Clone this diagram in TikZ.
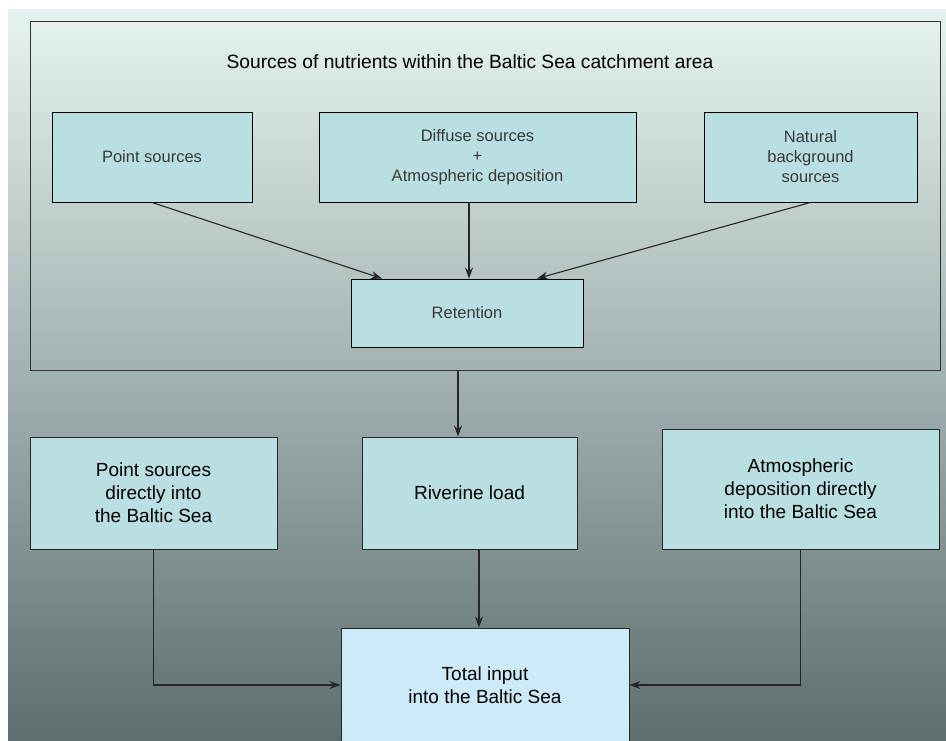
\documentclass[tikz,border=0pt]{standalone}
\usepackage{fontspec}
\setmainfont{Liberation Sans}
\usetikzlibrary{arrows.meta}

\definecolor{boxfill}{HTML}{BADFE3}
\definecolor{totfill}{HTML}{CCEAF8}
\definecolor{bgtop}{HTML}{E6F3F3}
\definecolor{bgmid}{HTML}{9AAAAA}
\definecolor{bgbot}{HTML}{5E6E6E}
\definecolor{soft}{HTML}{383838}

\tikzset{
    srcbox/.style={draw=black, line width=0.9pt, fill=boxfill, inner sep=0pt, align=center,
        text=soft, font=\fontsize{16.5}{20}\selectfont},
    inbox/.style={draw=black!85, line width=0.9pt, fill=boxfill, inner sep=0pt, align=center,
        font=\fontsize{19}{23}\selectfont},
    arr/.style={draw=black!85, line width=1.1pt, -{Stealth[length=11pt,width=8pt]}},
    link/.style={draw=black!85, line width=1.1pt}
}

\begin{document}
\begin{tikzpicture}[x=1pt, y=-1pt]
    \useasboundingbox (0,0) rectangle (946,741);
    \clip (0,0) rectangle (946,741);
    % background
    \shade[top color=bgtop, middle color=bgmid, bottom color=bgbot]
        (8,10) rectangle (946,741);

    % catchment area
    \node[draw=black!80, line width=1pt, minimum width=910pt, minimum height=348pt,
        inner sep=0pt] (frame) at (485,196) {};
    \node[font=\fontsize{19.2}{22}\selectfont] (title) at (470,62)
        {Sources of nutrients within the Baltic Sea catchment area};

    \node[srcbox, minimum width=200pt, minimum height=90pt] (pts) at (152,157) {Point sources};
    \node[srcbox, minimum width=317pt, minimum height=90pt] (dif) at (477.5,157)
        {Diffuse sources\\+\\Atmospheric deposition};
    \node[srcbox, minimum width=213pt, minimum height=90pt] (nat) at (810.5,157)
        {Natural\\background\\sources};
    \node[srcbox, minimum width=232pt, minimum height=68pt] (ret) at (467,313) {Retention};

    \draw[arr] (pts.south) -- ([xshift=-85pt]ret.north);
    \draw[arr] (dif.south -| 469,0) -- (ret.north -| 469,0);
    \draw[arr] (nat.south) -- ([xshift=70pt]ret.north);

    % direct inputs
    \node[inbox, minimum width=247pt, minimum height=112pt] (pdir) at (153.5,493)
        {Point sources\\directly into\\the Baltic Sea};
    \node[inbox, minimum width=215pt, minimum height=112pt] (riv) at (469.5,493) {Riverine load};
    \node[inbox, minimum width=277pt, minimum height=120pt] (atm) at (800.5,489)
        {Atmospheric\\deposition directly\\into the Baltic Sea};
    \node[inbox, fill=totfill, minimum width=288pt, minimum height=114pt] (tot) at (485,685)
        {Total input\\into the Baltic Sea};

    \draw[arr] (frame.south -| 458,0) -- (riv.north -| 458,0);
    \draw[arr] (riv.south -| 479,0) -- (tot.north -| 479,0);
    \draw[arr] (pdir.south) |- (tot.west);
    \draw[arr] (atm.south) |- (tot.east);
\end{tikzpicture}
\end{document}
